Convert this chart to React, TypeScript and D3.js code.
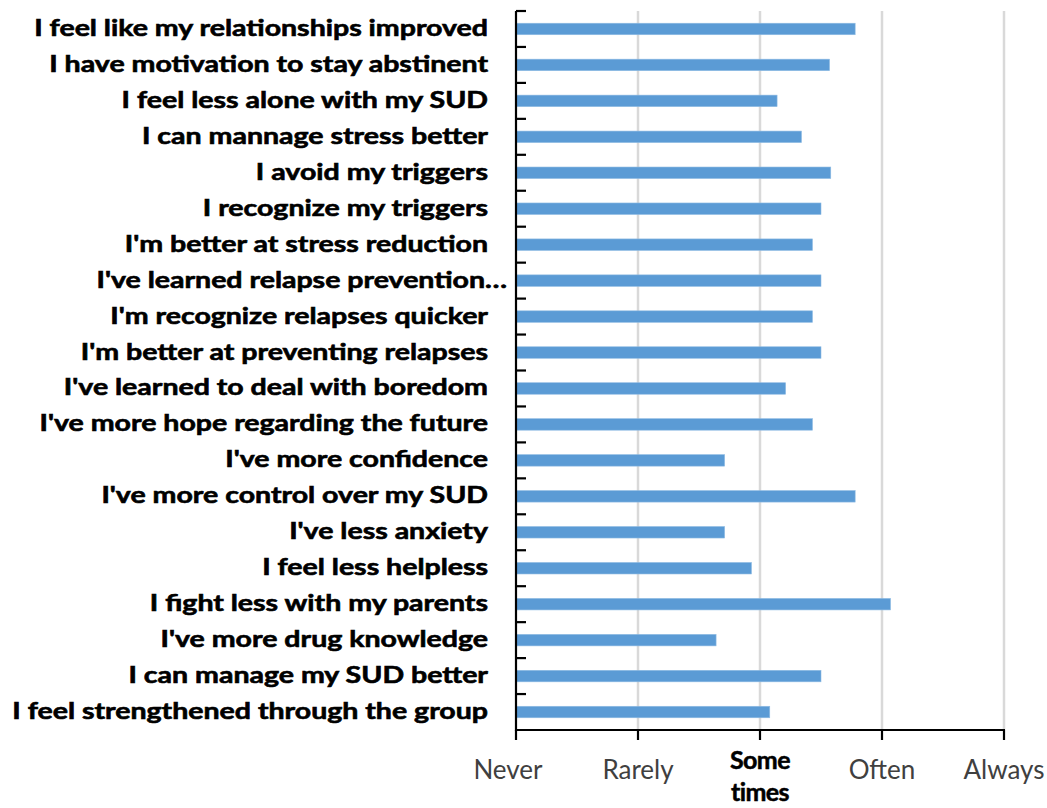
import React, { useEffect, useRef, useState } from "react";
import * as d3 from "d3";

const categories = [
  "I feel like my relationships improved",
  "I have motivation to stay abstinent",
  "I feel less alone with my SUD",
  "I can mannage stress better",
  "I avoid my triggers",
  "I recognize my triggers",
  "I'm better at stress reduction",
  "I've learned relapse prevention…",
  "I'm recognize relapses quicker",
  "I'm better at preventing relapses",
  "I've learned to deal with boredom",
  "I've more hope regarding the future",
  "I've more confidence",
  "I've more control over my SUD",
  "I've less anxiety",
  "I feel less helpless",
  "I fight less with my parents",
  "I've more drug knowledge",
  "I can manage my SUD better",
  "I feel strengthened through the group",
];

const values = [
  2.78, 2.57, 2.14, 2.34, 2.58, 2.5, 2.43, 2.5, 2.43, 2.5, 2.21, 2.43, 1.71,
  2.78, 1.71, 1.93, 3.07, 1.64, 2.5, 2.08,
];

const tickValues = [0, 1, 2, 3, 4];
const tickLabels = ["Never", "Rarely", "Some times", "Often", "Always"];

const W = 1047;
const H = 808;

export default function App() {
  const x = d3.scaleLinear().domain([0, 4]).range([516, 1004]);
  const y = d3
    .scaleBand<string>()
    .domain(categories)
    .range([11, 730])
    .paddingInner(0.68)
    .paddingOuter(0.34);
  const step = y.step();
  const [top, bottom] = y.range();
  const boundaries = d3.range(categories.length + 1).map((i) => top + i * step);

  const labelFont = "Lato, 'Open Sans', sans-serif";
  const gRef = useRef<SVGGElement>(null);
  const [sx, setSx] = useState(1);
  useEffect(() => {
    if (!gRef.current) return;
    const t = gRef.current.querySelector("text") as SVGTextElement | null;
    if (t) {
      const w = t.getComputedTextLength();
      if (w > 0) setSx(454 / w);
    }
  }, []);

  return (
    <svg
      width={W}
      height={H}
      style={{ position: "absolute", left: 0, top: 0, background: "#fff" }}
    >
      {/* gridlines */}
      {tickValues.slice(1).map((v) => (
        <line
          key={"g" + v}
          x1={x(v)}
          x2={x(v)}
          y1={top}
          y2={bottom}
          stroke="#d9d9d9"
          strokeWidth={2.5}
        />
      ))}
      {/* bars */}
      {categories.map((c, i) => (
        <rect
          key={c}
          x={x(0)}
          y={y(c)!}
          width={x(values[i]) - x(0)}
          height={y.bandwidth()}
          fill="#5b9bd5"
          stroke="#8fbbe3"
          strokeWidth={0.6}
        />
      ))}
      {/* y axis */}
      <line x1={x(0)} x2={x(0)} y1={top} y2={bottom + 1} stroke="#000" strokeWidth={2.2} />
      {boundaries.slice(0, -1).map((b, i) => (
        <line key={"yt" + i} x1={x(0)} x2={x(0) + 10} y1={b} y2={b} stroke="#000" strokeWidth={2.2} />
      ))}
      {/* x axis */}
      <line x1={x(0) - 1} x2={x(4) + 1} y1={bottom} y2={bottom} stroke="#000" strokeWidth={2.2} />
      {tickValues.map((v) => (
        <line key={"xt" + v} x1={x(v)} x2={x(v)} y1={bottom} y2={bottom + 10} stroke="#000" strokeWidth={2.2} />
      ))}
      {/* x tick labels */}
      {tickValues.map((v, i) => {
        const lab = tickLabels[i];
        if (lab.includes(" ") && i === 2) {
          const parts = lab.split(" ");
          return (
            <text
              key={"xl" + v}
              x={x(v)}
              textAnchor="middle"
              fontFamily={labelFont}
              fontWeight="bold"
              fontSize={25}
              letterSpacing={-0.6}
              fill="#000"
              stroke="#000"
              strokeWidth={0.5}
            >
              <tspan x={x(v)} y={769}>{parts[0]}</tspan>
              <tspan x={x(v)} y={801}>{parts[1]}</tspan>
            </text>
          );
        }
        return (
          <text
            key={"xl" + v}
            x={i === 0 ? x(v) - 8 : x(v)}
            y={779}
            textAnchor="middle"
            fontFamily={labelFont}
            fontSize={26}
            fill="#404040"
          >
            {lab}
          </text>
        );
      })}
      {/* y labels */}
      <g ref={gRef}>
        {categories.map((c) => {
          const ax = c.endsWith("…") ? 507 : 488;
          const cy = y(c)! + y.bandwidth() / 2;
          return (
            <text
              key={"yl" + c}
              transform={`translate(${ax},${cy + 7}) scale(${sx},1)`}
              textAnchor="end"
              fontFamily={labelFont}
              fontWeight="bold"
              fontSize={22}
              fill="#000"
              stroke="#000"
              strokeWidth={0.6}
            >
              {c}
            </text>
          );
        })}
      </g>
    </svg>
  );
}
